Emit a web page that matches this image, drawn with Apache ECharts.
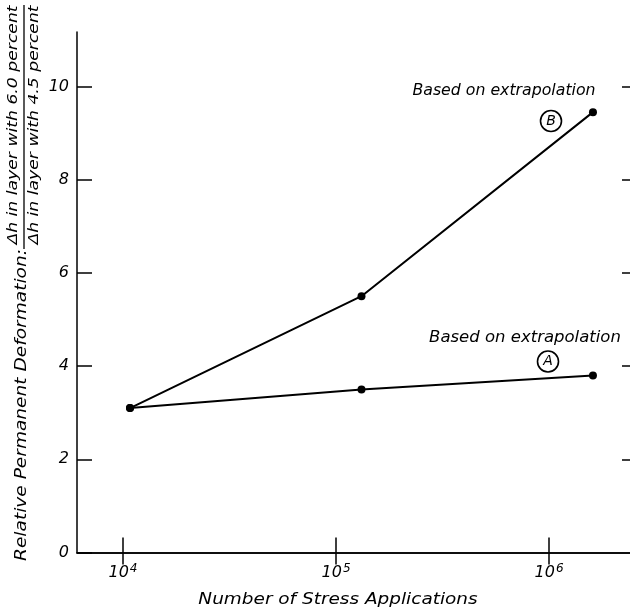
<!DOCTYPE html>
<html>
<head>
<meta charset="utf-8">
<script src="https://cdn.jsdelivr.net/npm/echarts@6/dist/echarts.min.js"></script>
<style>
  html, body { margin: 0; padding: 0; background: #fff; }
  #chart { width: 630px; height: 609px; }
</style>
</head>
<body>
<div id="chart"></div>
<script>
// Number of stress applications (log scale) and the deformation ratio for each curve
const stressApplications = [1e4, 1e5, 1e6];
const curveA = [3.1, 3.5, 3.8];
const curveB = [3.1, 5.5, 9.45];

// Tick positions
const xTickValues = [1e4, 1e5, 1e6];
const yTickValues = [0, 2, 4, 6, 8, 10];
const yRightTickValues = [2, 4, 6, 8, 10];

// Text
const xAxisTitle = 'Number of Stress Applications';
const yAxisTitle = 'Relative Permanent Deformation:';
const yNumerator = 'Δh in layer with 6.0 percent';
const yDenominator = 'Δh in layer with 4.5 percent';
const noteText = 'Based on extrapolation';
const curveNames = ['A', 'B'];

const FONT = '"DejaVu Sans", "Liberation Sans", sans-serif';
const INK = '#000';

const chart = echarts.init(document.getElementById('chart'), null, { renderer: 'canvas' });

const seriesData = (ys) => stressApplications.map((n, i) => [n, ys[i]]);

// the curves are plotted against their own (slightly wider-spaced) log scale
const lineSeries = (name, ys) => ({
  name: name,
  type: 'line',
  xAxisIndex: 2,
  yAxisIndex: 0,
  data: seriesData(ys),
  symbol: 'circle',
  symbolSize: 8,
  itemStyle: { color: INK },
  lineStyle: { color: INK, width: 2 },
  animation: false,
  z: 5
});

// tick-scale extent and curve-scale extent (log10 exponents)
const tickMin = Math.pow(10, 3.784);
const tickMax = Math.pow(10, 6.38);
const curveMin = Math.pow(10, 3.771);
const curveMax = Math.pow(10, 6.16);
const yMax = 11.17;

const text = (str, x, y, size, opts) => Object.assign({
  type: 'text', x: x, y: y,
  style: { text: str, font: 'italic ' + size + 'px ' + FONT, fill: INK, align: 'center', verticalAlign: 'middle' }
}, opts || {});

const option = {
  backgroundColor: '#fff',
  animation: false,
  grid: { left: 77, right: 0, top: 32, bottom: 56.5, containLabel: false },
  xAxis: [
    {
      type: 'log',
      position: 'bottom',
      min: tickMin,
      max: tickMax,
      axisLine: { show: true, lineStyle: { color: INK, width: 1.5 } },
      axisTick: { show: true, inside: true, length: 15, customValues: xTickValues, lineStyle: { color: INK, width: 1.5 } },
      splitLine: { show: false },
      axisLabel: {
        customValues: xTickValues,
        margin: 10,
        color: INK,
        formatter: (v) => '{b|10}{s|' + Math.round(Math.log10(v)) + '}',
        rich: {
          b: { fontSize: 16, fontStyle: 'italic', fontFamily: FONT, color: INK },
          s: { fontSize: 12, fontStyle: 'italic', fontFamily: FONT, color: INK, padding: [0, 0, 9, 1] }
        }
      }
    },
    {
      type: 'log',
      position: 'top',
      min: tickMin,
      max: tickMax,
      axisLine: { show: true, lineStyle: { color: INK, width: 1.5 } },
      axisTick: { show: true, inside: true, length: 12, customValues: xTickValues, lineStyle: { color: INK, width: 1.5 } },
      axisLabel: { show: false },
      splitLine: { show: false }
    },
    {
      type: 'log',
      show: false,
      min: curveMin,
      max: curveMax,
      splitLine: { show: false }
    }
  ],
  yAxis: [
    {
      type: 'value',
      position: 'left',
      min: 0,
      max: yMax,
      axisLine: { show: true, lineStyle: { color: INK, width: 1.5 } },
      axisTick: { show: true, inside: true, length: 15, customValues: yTickValues, lineStyle: { color: INK, width: 1.5 } },
      splitLine: { show: false },
      axisLabel: {
        customValues: yTickValues,
        margin: 8,
        color: INK,
        fontSize: 16,
        fontStyle: 'italic',
        fontFamily: FONT
      }
    },
    {
      type: 'value',
      position: 'right',
      min: 0,
      max: yMax,
      axisLine: { show: false },
      axisTick: { show: true, inside: true, length: 8, customValues: yRightTickValues, lineStyle: { color: INK, width: 1.5 } },
      axisLabel: { show: false },
      splitLine: { show: false }
    }
  ],
  series: [
    lineSeries(curveNames[0], curveA),
    lineSeries(curveNames[1], curveB)
  ],
  graphic: [
    // horizontal axis title
    text(xAxisTitle, 338, 600, 15, { scaleX: 1.23 }),
    // vertical axis title with the ratio written as a fraction
    text(yAxisTitle, 22, 405, 16, { rotation: Math.PI / 2, scaleX: 1.16 }),
    text(yNumerator, 13, 125, 14, { rotation: Math.PI / 2, scaleX: 1.23 }),
    {
      type: 'line', shape: { x1: 24, y1: 5, x2: 24, y2: 249 },
      style: { stroke: INK, lineWidth: 1.3 }
    },
    text(yDenominator, 34, 125, 14, { rotation: Math.PI / 2, scaleX: 1.23 }),
    // curve notes
    text(noteText, 504, 91, 15, { scaleX: 1.05 }),
    {
      type: 'circle', shape: { cx: 551, cy: 121, r: 10.5 },
      style: { fill: 'none', stroke: INK, lineWidth: 1.6 }
    },
    text(curveNames[1], 551, 121, 14),
    text(noteText, 525, 338, 15, { scaleX: 1.1 }),
    {
      type: 'circle', shape: { cx: 548, cy: 361.5, r: 10.5 },
      style: { fill: 'none', stroke: INK, lineWidth: 1.6 }
    },
    text(curveNames[0], 548, 361.5, 14)
  ]
};

chart.setOption(option);
</script>
</body>
</html>
